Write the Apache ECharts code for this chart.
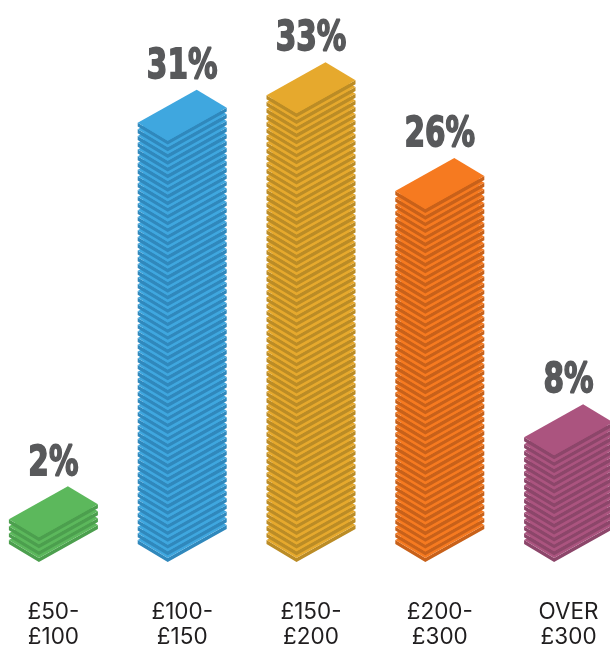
<!DOCTYPE html>
<html>
<head>
<meta charset="utf-8">
<style>html,body{margin:0;padding:0;background:#fff}#chart{width:610px;height:645px}</style>
<script src="https://cdn.jsdelivr.net/npm/echarts@6/dist/echarts.min.js"></script>
</head>
<body>
<div id="chart"></div>
<script>
// Spending bands and the share of respondents in each.
const categories = ['£50-\n£100', '£100-\n£150', '£150-\n£200', '£200-\n£300', 'OVER\n£300'];
const shares = [2, 31, 33, 26, 8];

// Face colour and side colour of each stack.
const topColors = ['#5cb85c', '#3fa7df', '#e6a92d', '#f67a20', '#ab547f'];
const sideColors = ['#4c9f4e', '#3088bc', '#bb8c26', '#c8611a', '#8c466a'];

// Isometric sheet geometry, in pixels relative to the nearest corner.
const LEFT = [-30, -18], RIGHT = [59, -33], BACK = [29, -51];
const PITCH = 6.7, THICKNESS = 3.9, HALF_SPAN = 14.5;

function sheet(fx, fy, fill, side) {
  const p = (o) => [fx + o[0], fy + o[1]];
  const t = THICKNESS;
  return [
    { type: 'polygon', silent: true, style: { fill: side },
      shape: { points: [p(LEFT), [fx + LEFT[0], fy + LEFT[1] + t], [fx, fy + t], [fx + RIGHT[0], fy + RIGHT[1] + t], p(RIGHT), [fx, fy]] } },
    { type: 'polygon', silent: true, style: { fill: fill },
      shape: { points: [[fx, fy], p(LEFT), p(BACK), p(RIGHT)] } }
  ];
}

function renderStack(params, api) {
  const i = params.dataIndex;
  const base = api.coord([i, 0.2]);
  const top = api.coord([i, api.value(1)]);
  const fx = base[0] - HALF_SPAN;
  const bottom = base[1] - THICKNESS;   // top corner of the lowest sheet
  const rise = bottom - top[1];
  const count = Math.max(1, Math.round(rise / PITCH));
  const step = rise / count;
  const children = [];
  for (let k = 0; k <= count; k++) {
    children.push(...sheet(fx, bottom - k * step, topColors[i], sideColors[i]));
  }
  children.push({
    type: 'text', silent: true,
    x: base[0], y: top[1] + BACK[1] - 2, scaleX: 0.72, scaleY: 1,
    style: {
      text: api.value(1) + '%', x: 0, y: 0,
      align: 'center', verticalAlign: 'bottom',
      font: 'bold 41px "DejaVu Sans"', fill: '#58595b',
      stroke: '#58595b', lineWidth: 1.8
    }
  });
  return { type: 'group', children };
}

const chart = echarts.init(document.getElementById('chart'), null, { renderer: 'canvas' });
chart.setOption({
  animation: false,
  backgroundColor: '#fff',
  grid: { left: -11, right: -23, top: 17.5, bottom: 83, containLabel: false, outerBoundsMode: 'none' },
  xAxis: {
    type: 'category', data: categories,
    axisLine: { show: false }, axisTick: { show: false }, splitLine: { show: false },
    axisLabel: { interval: 0, margin: 38, hideOverlap: false, fontFamily: 'Inter', fontSize: 22.5, lineHeight: 25, color: '#1f1d1e' }
  },
  yAxis: { type: 'value', min: 0.2, max: 40, show: false },
  series: [{
    type: 'custom', renderItem: renderStack, clip: false,
    data: shares.map((v, i) => [categories[i], v]),
    encode: { x: 0, y: 1 }
  }]
});
</script>
</body>
</html>
